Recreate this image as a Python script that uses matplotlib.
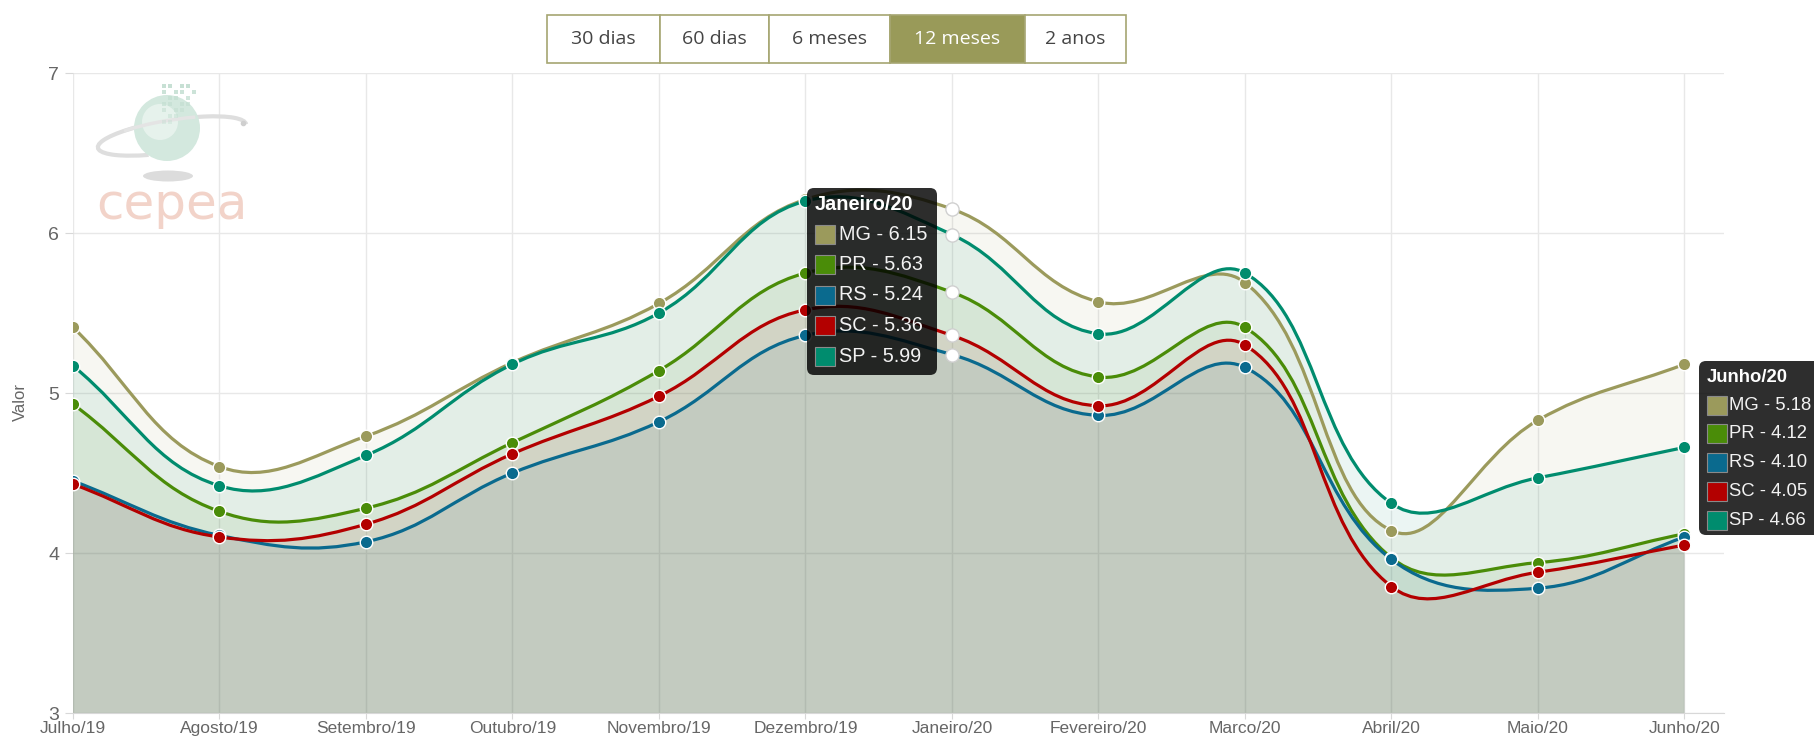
import matplotlib
matplotlib.use("Agg")
import matplotlib.pyplot as plt
from matplotlib.path import Path
from matplotlib.patches import PathPatch, FancyBboxPatch, Rectangle, Circle, Ellipse, Arc

plt.rcParams['font.family'] = ['Liberation Sans', 'DejaVu Sans']

months = ['Julho/19', 'Agosto/19', 'Setembro/19', 'Outubro/19', 'Novembro/19', 'Dezembro/19',
          'Janeiro/20', 'Fevereiro/20', 'Marco/20', 'Abril/20', 'Maio/20', 'Junho/20']

mg = [5.41, 4.54, 4.73, 5.19, 5.56, 6.21, 6.15, 5.57, 5.69, 4.14, 4.83, 5.18]
pr = [4.93, 4.26, 4.28, 4.69, 5.14, 5.75, 5.63, 5.10, 5.41, 3.97, 3.94, 4.12]
rs = [4.45, 4.11, 4.07, 4.50, 4.82, 5.36, 5.24, 4.86, 5.16, 3.96, 3.78, 4.10]
sc = [4.43, 4.10, 4.18, 4.62, 4.98, 5.52, 5.36, 4.92, 5.30, 3.79, 3.88, 4.05]
sp = [5.17, 4.42, 4.61, 5.18, 5.50, 6.20, 5.99, 5.37, 5.75, 4.31, 4.47, 4.66]

names = ['MG', 'PR', 'RS', 'SC', 'SP']
series = [mg, pr, rs, sc, sp]
colors = ['#9b9a5c', '#4a8c08', '#0a6a8e', '#b30000', '#008c6e']

buttons = ['30 dias', '60 dias', '6 meses', '12 meses', '2 anos']
selected = '12 meses'
hover_idx = 6      # Janeiro/20
last_idx = 11      # Junho/20

# pixel size of one step on each axis (spline is built in screen space)
SX, SY = 146.5, 159.3


def spline_verts(xs, ys, t=0.4):
    # chart.js style cubic interpolation
    px = [x * SX for x in xs]
    py = [y * SY for y in ys]
    n = len(px)
    prev_c, next_c = [], []
    for i in range(n):
        a = max(i - 1, 0)
        b = min(i + 1, n - 1)
        d01 = ((px[i] - px[a]) ** 2 + (py[i] - py[a]) ** 2) ** 0.5
        d12 = ((px[b] - px[i]) ** 2 + (py[b] - py[i]) ** 2) ** 0.5
        tot = d01 + d12
        s01 = d01 / tot if tot else 0
        s12 = d12 / tot if tot else 0
        fa, fb = t * s01, t * s12
        dx, dy = px[b] - px[a], py[b] - py[a]
        prev_c.append(((px[i] - fa * dx) / SX, (py[i] - fa * dy) / SY))
        next_c.append(((px[i] + fb * dx) / SX, (py[i] + fb * dy) / SY))
    verts = [(xs[0], ys[0])]
    codes = [Path.MOVETO]
    for i in range(1, n):
        verts += [next_c[i - 1], prev_c[i], (xs[i], ys[i])]
        codes += [Path.CURVE4] * 3
    return verts, codes


fig = plt.figure(figsize=(18.14, 7.38), dpi=100)
ax = fig.add_axes([73 / 1814, 25 / 738, 1651 / 1814, 640 / 738])
ax.set_xlim(0, 11.27)
ax.set_ylim(3, 7)

xs = list(range(len(months)))
curves = [spline_verts(xs, vals) for vals in series]

# all fills first, then lines and points
for (verts, codes), vals, col in zip(curves, series, colors):
    fv = verts + [(xs[-1], 3), (xs[0], 3), (xs[0], vals[0])]
    fc = codes + [Path.LINETO, Path.LINETO, Path.CLOSEPOLY]
    ax.add_patch(PathPatch(Path(fv, fc), facecolor=col, alpha=0.08, edgecolor='none', zorder=2))

for (verts, codes), vals, col in zip(curves, series, colors):
    ax.add_patch(PathPatch(Path(verts, codes), fill=False, edgecolor=col, lw=2.3, zorder=3,
                           capstyle='round', joinstyle='round'))
    mx = [x for x in xs if x != hover_idx]
    my = [vals[x] for x in mx]
    ax.plot(mx, my, 'o', ms=9, mfc=col, mec='white', mew=1, zorder=4)
    ax.plot([hover_idx], [vals[hover_idx]], 'o', ms=9.5, mfc='white', mec='#d0d0d0', mew=1, zorder=4)

ax.set_xticks(xs)
ax.set_xticklabels(months, fontsize=12.5, color='#666666')
ax.set_yticks([3, 4, 5, 6, 7])
ax.set_yticklabels(['3', '4', '5', '6', '7'], fontsize=14, color='#666666')
ax.tick_params(axis='x', length=4, color='#d8d8d8', pad=2)
ax.tick_params(axis='y', length=6, color='#d8d8d8', pad=4)
ax.grid(True, color='#e8e8e8', lw=1)
ax.set_axisbelow(True)
for s in ['top', 'right', 'left']:
    ax.spines[s].set_visible(False)
ax.spines['bottom'].set_color('#d8d8d8')

fig.text(20 / 1814, 1 - 402 / 738, 'Valor', rotation=90, ha='center', va='center',
         fontsize=12, color='#666666')

# overlay in pixel coordinates for buttons, logo, tooltips
ov = fig.add_axes([0, 0, 1, 1], zorder=10)
ov.set_xlim(0, 1814)
ov.set_ylim(738, 0)
ov.axis('off')
ov.patch.set_alpha(0)

# range buttons
edges = [547, 659.5, 769, 890, 1025, 1126]
for i, lab in enumerate(buttons):
    x0, x1 = edges[i], edges[i + 1]
    on = lab == selected
    ov.add_patch(Rectangle((x0, 14.5), x1 - x0, 48.5, facecolor='#999a59' if on else 'white',
                           edgecolor='#a6a672', lw=1.2))
    ov.text((x0 + x1) / 2, 39, lab, ha='center', va='center', fontsize=14,
            family=['Open Sans', 'DejaVu Sans'], color='white' if on else '#444444')

# cepea logo
ov.add_patch(Ellipse((168, 176), 50, 11, facecolor='#dcdcdc', edgecolor='none'))
ov.add_patch(Arc((172, 136), 150, 32, angle=-9, theta1=150, theta2=360, color='#dedede', lw=3))
ov.add_patch(Circle((167, 128), 33, facecolor='#d3e8de', edgecolor='none'))
ov.add_patch(Circle((160, 122), 18, facecolor='#e6f2ec', edgecolor='none'))
ov.add_patch(Arc((172, 136), 150, 32, angle=-9, theta1=195, theta2=330, color='#e4e4e4', lw=2.5))
ov.plot([243], [123], 'o', ms=3, color='#cfcfcf')
for r in range(7):
    for c in range(6 - r // 2):
        if (r + c) % 3 != 2:
            ov.add_patch(Rectangle((162 + c * 6, 84 + r * 6), 4, 4, facecolor='#c4dfd2',
                                   edgecolor='none', alpha=0.95 - r * 0.09))
ov.text(172, 205, 'cepea', ha='center', va='center', fontsize=36, color='#f2d3c9',
        family=['DejaVu Sans'])


def tooltip(x, y, w, h, title, idx, title_y, row0, step, fs=14.3, tx=32):
    ov.add_patch(FancyBboxPatch((x, y), w, h, boxstyle='round,pad=0,rounding_size=7',
                                facecolor='black', edgecolor='none', alpha=0.82))
    ov.text(x + 8, y + title_y, title, ha='left', va='center', fontsize=fs,
            fontweight='bold', color='white')
    for k, (name, vals, col) in enumerate(zip(names, series, colors)):
        cy = y + row0 + k * step
        ov.add_patch(Rectangle((x + 8, cy - 9.5), 20, 19, facecolor=col, edgecolor='#8a8a8a', lw=0.8))
        ov.text(x + tx, cy, f'{name} - {vals[idx]:.2f}', ha='left', va='center',
                fontsize=fs, color='#f2f2f2')


tooltip(807, 188, 130, 187, months[hover_idx], hover_idx, 17, 46, 30.5)
tooltip(1699, 361, 140, 174, months[last_idx], last_idx, 16, 44, 28.8, fs=13.3, tx=30)

fig.savefig('out.png', dpi=100)
